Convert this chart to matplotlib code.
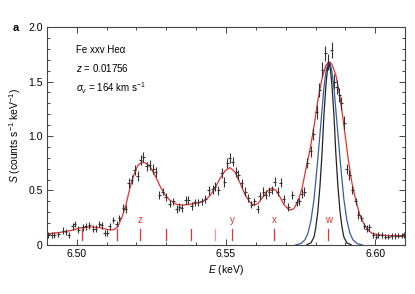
import matplotlib
matplotlib.use("Agg")
import matplotlib.pyplot as plt
from matplotlib.ticker import MultipleLocator

plt.rcParams['font.family'] = ['Liberation Sans', 'DejaVu Sans']
plt.rcParams['mathtext.fontset'] = 'custom'
plt.rcParams['mathtext.rm'] = 'Liberation Sans'
plt.rcParams['mathtext.it'] = 'Liberation Sans:italic'

# observed spectrum (keV, counts/s/keV, 1 sigma)
energy = [6.4904, 6.4916, 6.4924, 6.4938, 6.4955, 6.4964, 6.4974, 6.4986, 6.4994, 6.5005,
          6.5020, 6.5030, 6.5042, 6.5055, 6.5064, 6.5075, 6.5083, 6.5094, 6.5103, 6.5111,
          6.5122, 6.5134, 6.5142, 6.5156, 6.5165, 6.5175, 6.5184, 6.5194, 6.5205, 6.5215,
          6.5223, 6.5234, 6.5245, 6.5256, 6.5265, 6.5276, 6.5288, 6.5299, 6.5312, 6.5323,
          6.5335, 6.5343, 6.5352, 6.5366, 6.5374, 6.5385, 6.5396, 6.5407, 6.5419, 6.5430,
          6.5443, 6.5455, 6.5463, 6.5474, 6.5486, 6.5494, 6.5504, 6.5513, 6.5523, 6.5534,
          6.5541, 6.5553, 6.5564, 6.5575, 6.5584, 6.5594, 6.5606, 6.5614, 6.5625, 6.5634,
          6.5645, 6.5653, 6.5664, 6.5673, 6.5684, 6.5694, 6.5709, 6.5722, 6.5737, 6.5745,
          6.5754, 6.5763, 6.5773, 6.5784, 6.5793, 6.5804, 6.5813, 6.5823, 6.5832, 6.5843,
          6.5854, 6.5863, 6.5871, 6.5879, 6.5886, 6.5897, 6.5905, 6.5913, 6.5923, 6.5935,
          6.5944, 6.5953, 6.5964, 6.5972, 6.5980, 6.5994, 6.6003, 6.6011, 6.6022, 6.6033,
          6.6044, 6.6056, 6.6067, 6.6078, 6.6089, 6.6097]
flux = [0.092, 0.092, 0.092, 0.098, 0.13, 0.12, 0.09, 0.17, 0.19, 0.14,
        0.16, 0.17, 0.18, 0.15, 0.15, 0.19, 0.18, 0.11, 0.11, 0.17,
        0.23, 0.19, 0.245, 0.34, 0.33, 0.57, 0.60, 0.69, 0.63, 0.78,
        0.81, 0.72, 0.73, 0.70, 0.67, 0.46, 0.49, 0.44, 0.38, 0.40,
        0.33, 0.35, 0.34, 0.41, 0.41, 0.36, 0.39, 0.39, 0.40, 0.42,
        0.50, 0.51, 0.535, 0.50, 0.66, 0.58, 0.755, 0.795, 0.765, 0.67,
        0.64, 0.565, 0.49, 0.43, 0.37, 0.40, 0.33, 0.45, 0.49, 0.46,
        0.49, 0.505, 0.58, 0.49, 0.57, 0.42, 0.35, 0.46, 0.39, 0.40,
        0.47, 0.49, 0.75, 0.86, 1.02, 1.22, 1.42, 1.61, 1.76, 1.68,
        1.79, 1.50, 1.45, 1.38, 1.30, 1.12, 0.70, 0.64, 0.505, 0.40,
        0.275, 0.245, 0.175, 0.15, 0.16, 0.09, 0.075, 0.09, 0.09, 0.075,
        0.075, 0.08, 0.08, 0.085, 0.085, 0.09]
flux_err = [0.025, 0.025, 0.025, 0.025, 0.03, 0.03, 0.025, 0.03, 0.03, 0.03,
            0.03, 0.03, 0.03, 0.03, 0.03, 0.03, 0.03, 0.025, 0.025, 0.03,
            0.03, 0.03, 0.03, 0.035, 0.035, 0.045, 0.045, 0.045, 0.045, 0.045,
            0.045, 0.045, 0.045, 0.045, 0.045, 0.035, 0.035, 0.035, 0.035, 0.035,
            0.035, 0.035, 0.035, 0.035, 0.035, 0.035, 0.035, 0.035, 0.035, 0.035,
            0.04, 0.04, 0.04, 0.04, 0.045, 0.045, 0.045, 0.045, 0.045, 0.045,
            0.045, 0.04, 0.04, 0.035, 0.035, 0.035, 0.035, 0.035, 0.04, 0.04,
            0.04, 0.04, 0.04, 0.04, 0.04, 0.035, 0.035, 0.035, 0.035, 0.035,
            0.04, 0.04, 0.045, 0.05, 0.055, 0.06, 0.065, 0.07, 0.07, 0.07,
            0.07, 0.065, 0.065, 0.065, 0.06, 0.06, 0.045, 0.045, 0.04, 0.035,
            0.035, 0.03, 0.03, 0.03, 0.03, 0.025, 0.025, 0.025, 0.025, 0.025,
            0.025, 0.025, 0.025, 0.025, 0.025, 0.025]

# best-fit model (red)
model_e = [6.4900, 6.4944, 6.4977, 6.5011, 6.5044, 6.5078, 6.5104, 6.5118, 6.5128, 6.5138,
           6.5151, 6.5165, 6.5178, 6.5192, 6.5205, 6.5218, 6.5232, 6.5245, 6.5262, 6.5279,
           6.5296, 6.5312, 6.5332, 6.5353, 6.5373, 6.5396, 6.5413, 6.5430, 6.5446, 6.5463,
           6.5480, 6.5497, 6.5513, 6.5530, 6.5547, 6.5564, 6.5581, 6.5594, 6.5607, 6.5624,
           6.5641, 6.5654, 6.5668, 6.5681, 6.5694, 6.5708, 6.5718, 6.5728, 6.5741, 6.5755,
           6.5768, 6.5782, 6.5795, 6.5808, 6.5822, 6.5835, 6.5845, 6.5855, 6.5869, 6.5882,
           6.5896, 6.5909, 6.5922, 6.5936, 6.5949, 6.5963, 6.5976, 6.5990, 6.6016, 6.6050,
           6.6100]
model_s = [0.10, 0.115, 0.13, 0.155, 0.165, 0.158, 0.14, 0.138, 0.145, 0.17,
           0.25, 0.37, 0.52, 0.65, 0.73, 0.76, 0.75, 0.72, 0.64, 0.54,
           0.46, 0.41, 0.375, 0.365, 0.37, 0.38, 0.39, 0.41, 0.45, 0.52,
           0.61, 0.68, 0.71, 0.67, 0.57, 0.46, 0.39, 0.365, 0.38, 0.44,
           0.50, 0.52, 0.50, 0.44, 0.37, 0.33, 0.32, 0.335, 0.40, 0.52,
           0.70, 0.88, 1.09, 1.33, 1.53, 1.65, 1.68, 1.66, 1.55, 1.36,
           1.08, 0.80, 0.57, 0.40, 0.27, 0.19, 0.135, 0.105, 0.09, 0.085,
           0.085]

# w line profiles (blue, black)
blue_e = [6.5734, 6.5751, 6.5765, 6.5775, 6.5785, 6.5795, 6.5801, 6.5808, 6.5815, 6.5822,
          6.5828, 6.5835, 6.5840, 6.5845, 6.5850, 6.5855, 6.5862, 6.5868, 6.5875, 6.5882,
          6.5889, 6.5895, 6.5905, 6.5915, 6.5925, 6.5939, 6.5956]
blue_s = [0.0, 0.013, 0.048, 0.11, 0.227, 0.419, 0.592, 0.796, 1.019, 1.243,
          1.44, 1.589, 1.656, 1.68, 1.656, 1.589, 1.44, 1.243, 1.019, 0.796,
          0.592, 0.419, 0.227, 0.11, 0.048, 0.013, 0.0]
black_e = [6.5771, 6.5785, 6.5795, 6.5801, 6.5808, 6.5815, 6.5822, 6.5828, 6.5835, 6.5840,
           6.5845, 6.5850, 6.5855, 6.5862, 6.5868, 6.5875, 6.5882, 6.5889, 6.5895, 6.5905,
           6.5919]
black_s = [0.002, 0.019, 0.073, 0.16, 0.311, 0.542, 0.846, 1.18, 1.47, 1.61,
           1.67, 1.61, 1.47, 1.18, 0.846, 0.542, 0.311, 0.16, 0.073, 0.019,
           0.002]

# line markers
line_e = [6.5017, 6.5135, 6.5212, 6.5299, 6.5383, 6.5463, 6.5520, 6.5661, 6.5842]
line_alpha = [1.0, 1.0, 1.0, 1.0, 1.0, 0.5, 1.0, 1.0, 1.0]
label_e = [6.5212, 6.5520, 6.5661, 6.5842]
label_txt = ['z', 'y', 'x', 'w']

red = '#e8302f'
blue = '#3b5ba5'

fig = plt.figure(figsize=(4.15, 2.94), dpi=100)
ax = fig.add_axes([0.113, 0.167, 0.863, 0.741])

ax.plot(blue_e, blue_s, color=blue, lw=0.9, zorder=2)
ax.plot(black_e, black_s, color='#222222', lw=0.9, zorder=2)
ax.plot(model_e, model_s, color=red, lw=0.9, zorder=3)
ax.errorbar(energy, flux, yerr=flux_err, xerr=0.0005, fmt='none',
            ecolor='#333333', elinewidth=0.8, capsize=0, zorder=4)

for e, a in zip(line_e, line_alpha):
    ax.plot([e, e], [0.045, 0.145], color=red, lw=0.9, alpha=a)
for e, t in zip(label_e, label_txt):
    ax.text(e, 0.185, t, color=red, fontsize=7, ha='center', va='bottom')

ax.text(6.4998, 1.79, 'Fe xxv He\u03b1', fontsize=7, va='center')
ax.text(6.4998, 1.62, r'$z$ = 0.01756', fontsize=7, va='center')
ax.text(6.4998, 1.44, r'$\sigma_v$ = 164 km s$^{-1}$', fontsize=7, va='center')

ax.set_xlim(6.49, 6.61)
ax.set_ylim(0, 2.0)
ax.xaxis.set_major_locator(MultipleLocator(0.05))
ax.xaxis.set_minor_locator(MultipleLocator(0.01))
ax.yaxis.set_major_locator(MultipleLocator(0.5))
ax.yaxis.set_minor_locator(MultipleLocator(0.1))
ax.set_xticklabels([])
ax.set_xticks([6.50, 6.55, 6.60])
ax.set_xticklabels(['6.50', '6.55', '6.60'])
ax.set_yticks([0, 0.5, 1.0, 1.5, 2.0])
ax.set_yticklabels(['0', '0.5', '1.0', '1.5', '2.0'])
ax.tick_params(which='both', direction='in', top=True, right=True,
               labelsize=7.5, color='#444444', width=0.7, pad=3)
ax.tick_params(which='major', length=4)
ax.tick_params(which='minor', length=2.5)
for s in ax.spines.values():
    s.set_linewidth(0.8)
    s.set_color('#444444')

ax.set_xlabel(r'$E$ (keV)', fontsize=7.5, labelpad=3)
ax.set_ylabel(r'$S$ (counts s$^{-1}$ keV$^{-1}$)', fontsize=7.5, labelpad=4)
fig.text(0.03, 0.905, 'a', fontsize=8, fontweight='bold', va='center')

fig.savefig('out.png', dpi=100)
